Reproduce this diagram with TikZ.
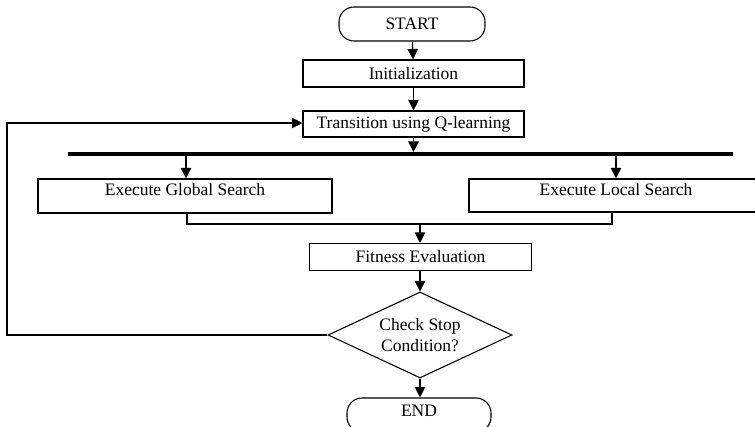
\documentclass[tikz,border=0pt]{standalone}
\usepackage{fontspec}
\setmainfont{Liberation Serif}
\usetikzlibrary{shapes.geometric,arrows.meta}
\begin{document}
\begin{tikzpicture}[x=1pt,y=-1pt,
  font=\fontsize{17.5}{21}\selectfont,
  line width=1.1pt,
  box/.style={draw,rectangle,inner sep=0pt},
  term/.style={draw,rectangle,rounded corners=15pt,inner sep=0pt},
  dec/.style={draw,diamond,inner sep=0pt,align=center,shape aspect=2.14},
  arr/.style={-{Triangle[length=10.5pt,width=10.5pt]}},
]
\useasboundingbox (0,0) rectangle (755,427);
\clip (0,0) rectangle (755,427);
\node[term,minimum width=146pt,minimum height=34pt] (start) at (412,24) {START};
\node[box,minimum width=221pt,minimum height=27pt] (init) at (413.5,73.5) {Initialization};
\node[box,minimum width=221pt,minimum height=26pt] (trans) at (413.5,124) {Transition using Q-learning};
\coordinate (barL) at (68,154);
\coordinate (barR) at (733,154);
\coordinate (barT) at (413.5,152);
\coordinate (barG) at (186,154);
\coordinate (barLo) at (616,154);
\node[box,minimum width=294pt,minimum height=34pt,text height=13pt,text depth=13pt] (glob) at (185,196) {Execute Global Search};
\node[box,minimum width=294pt,minimum height=33pt,text height=13pt,text depth=12pt] (loc) at (616,195.5) {Execute Local Search};
\coordinate (mG) at (187,224);
\coordinate (mL) at (612,224);
\coordinate (mF) at (420,224);
\node[box,minimum width=222pt,minimum height=27pt] (fit) at (420.5,257) {Fitness Evaluation};
\node[dec,minimum width=184pt,minimum height=86pt] (chk) at (420,335) {Check Stop\\Condition?};
\node[term,minimum width=144pt,minimum height=34pt,text depth=10pt,text height=14pt] (end) at (419,415) {END};
\coordinate (fbB) at (7,335);
\coordinate (fbT) at (7,123);

\draw[arr] (start) -- (init);
\draw[arr] (init) -- (trans);
\draw[arr] (trans.south) -- (barT);
\draw[line width=4pt] (barL) -- (barR);
\draw[arr] (barG) -- (glob.north -| barG);
\draw[arr] (barLo) -- (loc.north -| barLo);
\draw (glob.south -| mG) -- (mG) -- (mL) -- (loc.south -| mL);
\draw[arr] (mF) -- (fit.north -| mF);
\draw[arr] (fit.south -| chk.north) -- (chk.north);
\draw[arr] (chk.south) -- (end.north -| chk.south);
\draw[arr] (chk.west) -- (fbB) -- (fbT) -- (trans.west |- fbT);
\end{tikzpicture}
\end{document}
